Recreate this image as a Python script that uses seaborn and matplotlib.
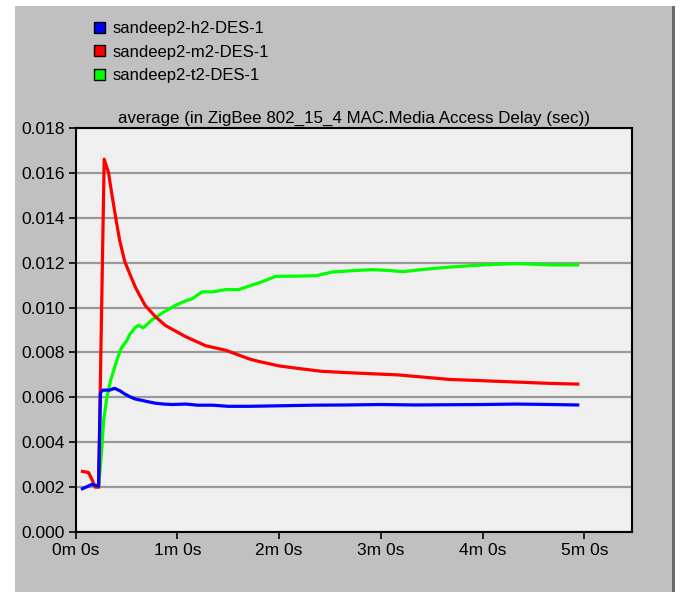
import matplotlib
matplotlib.use("Agg")
import matplotlib.pyplot as plt
from matplotlib.patches import Patch, Rectangle
import seaborn as sns
import pandas as pd

# time in seconds, values in seconds of delay
h2_t = [4.1, 7.7, 9.6, 13.6, 14.7, 16.0, 20.0, 23.0, 26.0, 29.0, 32.0, 35.0, 40.0, 43.0,
        47.0, 52.0, 57.0, 65.0, 72.0, 81.0, 90.0, 102.0, 118.0, 140.0, 160.0, 180.0,
        200.0, 220.0, 240.0, 260.0, 280.0, 296.0]
h2_v = [0.00193, 0.00205, 0.00212, 0.00205, 0.0062, 0.00632, 0.00632, 0.0064, 0.0063,
        0.00615, 0.00603, 0.00593, 0.00585, 0.0058, 0.00574, 0.0057, 0.00568, 0.0057,
        0.00565, 0.00565, 0.0056, 0.0056, 0.00562, 0.00565, 0.00566, 0.00568, 0.00566,
        0.00567, 0.00568, 0.0057, 0.00568, 0.00566]

m2_t = [4.1, 7.7, 9.6, 11.6, 13.6, 16.9, 19.5, 21.1, 23.8, 26.0, 29.0, 32.0, 35.3, 41.0,
        47.0, 53.0, 65.0, 76.7, 88.5, 102.0, 108.0, 120.0, 130.0, 145.0, 160.0, 175.0,
        190.0, 205.0, 220.0, 240.0, 260.0, 280.0, 296.0]
m2_v = [0.0027, 0.00265, 0.00235, 0.002, 0.002, 0.01661, 0.0160, 0.0152, 0.01396, 0.0130,
        0.01206, 0.0115, 0.0109, 0.0101, 0.0096, 0.0092, 0.0087, 0.0083, 0.0081, 0.00772,
        0.0076, 0.0074, 0.0073, 0.00716, 0.0071, 0.00705, 0.0070, 0.0069, 0.0068, 0.00674,
        0.00668, 0.00662, 0.00659]

t2_t = [13.6, 15.3, 16.6, 18.5, 20.5, 22.5, 25.0, 27.0, 30.0, 32.0, 35.0, 37.0, 40.0, 45.0,
        52.0, 59.0, 65.0, 69.0, 74.5, 81.0, 88.5, 96.0, 104.0, 110.0, 118.0, 130.0, 142.0,
        151.0, 165.0, 175.0, 185.0, 193.0, 205.0, 220.0, 240.0, 260.0, 280.0, 296.0]
t2_v = [0.002, 0.0035, 0.00497, 0.006, 0.0067, 0.0072, 0.0078, 0.0082, 0.0085, 0.0088,
        0.0091, 0.0092, 0.0091, 0.00945, 0.0098, 0.0101, 0.0103, 0.0104, 0.0107, 0.0107,
        0.0108, 0.0108, 0.0110, 0.01115, 0.01139, 0.0114, 0.01142, 0.01158, 0.01165,
        0.01169, 0.01165, 0.0116, 0.0117, 0.0118, 0.0119, 0.01196, 0.0119, 0.0119]

labels = ["sandeep2-h2-DES-1", "sandeep2-m2-DES-1", "sandeep2-t2-DES-1"]
colors = ["#0000ff", "#ff0000", "#00ff00"]
x_ticks = [0, 60, 120, 180, 240, 300]
x_ticklabels = ["0m 0s", "1m 0s", "2m 0s", "3m 0s", "4m 0s", "5m 0s"]
y_ticks = [0.000, 0.002, 0.004, 0.006, 0.008, 0.010, 0.012, 0.014, 0.016, 0.018]

plt.rcParams["font.family"] = ["Liberation Sans", "DejaVu Sans"]

fig = plt.figure(figsize=(6.81, 5.92), dpi=100, facecolor="white")
# grey window panel
fig.patches.append(Rectangle((15 / 681, 0), 657 / 681, 1 - 6 / 592, transform=fig.transFigure,
                             facecolor="#c0c0c0", edgecolor="none", zorder=-2))
fig.patches.append(Rectangle((672 / 681, 0), 3 / 681, 1 - 6 / 592, transform=fig.transFigure,
                             facecolor="#6a6a6a", edgecolor="none", zorder=-1))

ax = fig.add_axes([75.5 / 681, 1 - 532 / 592, 556.5 / 681, 404 / 592])
ax.set_facecolor("#efefef")

# draw green, red, blue (blue on top)
order = [2, 1, 0]
series = [(h2_t, h2_v), (m2_t, m2_v), (t2_t, t2_v)]
for i in order:
    df = pd.DataFrame({"t": series[i][0], "v": series[i][1]})
    sns.lineplot(data=df, x="t", y="v", ax=ax, color=colors[i], linewidth=2.3,
                 estimator=None, sort=False, legend=False, zorder=3)

ax.set_xlim(0, 328)
ax.set_ylim(0, 0.018)
ax.set_xticks(x_ticks)
ax.set_xticklabels(x_ticklabels)
ax.set_yticks(y_ticks)
ax.set_yticklabels([f"{y:.3f}" for y in y_ticks])
ax.set_xlabel("")
ax.set_ylabel("")
ax.grid(axis="y", color="#999999", linewidth=1.6, zorder=1)
ax.set_axisbelow(True)
for s in ax.spines.values():
    s.set_color("black")
    s.set_linewidth(1.5)
ax.tick_params(axis="both", direction="out", length=5, width=1.2, color="black",
               labelsize=12.5, labelcolor="black", pad=3)
ax.set_title("average (in ZigBee 802_15_4 MAC.Media Access Delay (sec))", fontsize=12.2, pad=4)

handles = [Patch(facecolor=c, edgecolor="black", linewidth=1.0) for c in colors]
fig.legend(handles, labels, loc="upper left", bbox_to_anchor=(94 / 681, 1 - 21 / 592),
           frameon=False, fontsize=12, handlelength=0.65, handleheight=0.65,
           handletextpad=0.45, labelspacing=0.52, borderaxespad=0, borderpad=0)

fig.savefig("out.png", dpi=100, facecolor=fig.get_facecolor())
